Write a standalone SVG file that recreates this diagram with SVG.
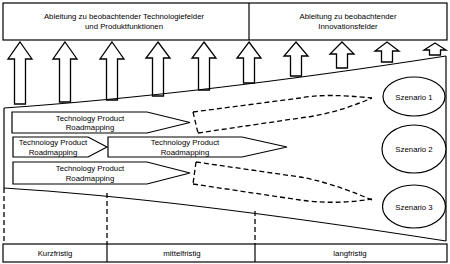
<svg xmlns="http://www.w3.org/2000/svg" width="450" height="264" viewBox="0 0 450 264">
<style>
.ln{fill:none;stroke:#000;stroke-width:1.2}
.bx{fill:#fff;stroke:#000;stroke-width:1.2}
.ds{fill:none;stroke:#000;stroke-width:1.3;stroke-dasharray:5,3}
.ar{fill:#fff;stroke:#000;stroke-width:1.3;stroke-linejoin:miter}
text{font-family:"Liberation Sans",Arial,sans-serif;font-size:7.8px;fill:#000;text-anchor:middle}
</style>
<rect width="450" height="264" fill="#fff"/>
<g id="top-box">
<rect class="bx" x="3" y="3" width="444" height="37"/>
<line class="ln" x1="249" y1="3" x2="249" y2="40"/>
<text x="124" y="19">Ableitung zu beobachtender Technologiefelder</text>
<text x="124" y="29">und Produktfunktionen</text>
<text x="348" y="19">Ableitung zu beobachtender</text>
<text x="348" y="29">Innovationsfelder</text>
</g>
<g id="arrows">
<polygon class="ar" points="20,42 32,59 25.5,59 25.5,104 14.5,104 14.5,59 8,59"/>
<polygon class="ar" points="65,42 77,59 70.5,59 70.5,102 59.5,102 59.5,59 53,59"/>
<polygon class="ar" points="112,42 124,59 117.5,59 117.5,100 106.5,100 106.5,59 100,59"/>
<polygon class="ar" points="158,42 170,58 163.5,58 163.5,96 152.5,96 152.5,58 146,58"/>
<polygon class="ar" points="204,42 216,58 209.5,58 209.5,90 198.5,90 198.5,58 192,58"/>
<polygon class="ar" points="249,42 261,58 254.5,58 254.5,83 243.5,83 243.5,58 237,58"/>
<polygon class="ar" points="296,42 308,56 301.5,56 301.5,76 290.5,76 290.5,56 284,56"/>
<polygon class="ar" points="342,42 354,54 347.5,54 347.5,68 336.5,68 336.5,54 330,54"/>
<polygon class="ar" points="387,42 399,51 392.5,51 392.5,62 381.5,62 381.5,51 375,51"/>
<polygon class="ar" points="435,43 446,50 440.5,50 440.5,55 429.5,55 429.5,50 424,50"/>
</g>
<g id="funnel">
<path class="ln" d="M4,108 C120,100 260,85 446,56"/>
<path class="ln" d="M4,188 C120,195 260,212 446,241"/>
<line class="ln" x1="4" y1="108" x2="4" y2="188"/>
<line class="ln" x1="446" y1="56" x2="446" y2="241"/>
</g>
<g id="connectors">
<path class="ds" d="M193,112 L198,133"/>
<path class="ds" d="M193,112 L300,98 Q325,93 372,98"/>
<path class="ds" d="M198,133 L300,118 Q335,114 372,98"/>
<path class="ds" d="M196,162 L193,184"/>
<path class="ds" d="M196,162 L300,177 Q330,182 372,200"/>
<path class="ds" d="M193,184 L300,200 Q335,205 372,199"/>
<line class="ds" x1="4" y1="188" x2="4" y2="244"/>
<line class="ds" x1="107" y1="193" x2="107" y2="244"/>
<line class="ds" x1="255" y1="211" x2="255" y2="244"/>
</g>
<g id="tpr1">
<polygon class="bx" points="12,112 147,112 190,122.5 147,133 12,133"/>
<text x="90" y="120.5">Technology Product</text>
<text x="90" y="130">Roadmapping</text>
</g>
<g id="tpr2a">
<polygon class="bx" points="13,137 88,137 107,147 88,157 13,157"/>
<text x="53" y="145">Technology Product</text>
<text x="53" y="154.5">Roadmapping</text>
</g>
<g id="tpr2b">
<polygon class="bx" points="108,137 242,137 287,147 242,157 108,157"/>
<text x="185" y="145">Technology Product</text>
<text x="185" y="154.5">Roadmapping</text>
</g>
<g id="tpr3">
<polygon class="bx" points="13,162 147,162 190,173 147,184 13,184"/>
<text x="90" y="171">Technology Product</text>
<text x="90" y="180.5">Roadmapping</text>
</g>
<g id="szenario1">
<ellipse class="bx" cx="414" cy="96.5" rx="31" ry="19.5"/>
<text x="414" y="99.5">Szenario 1</text>
</g>
<g id="szenario2">
<ellipse class="bx" cx="414" cy="149" rx="32" ry="24"/>
<text x="414" y="152">Szenario 2</text>
</g>
<g id="szenario3">
<ellipse class="bx" cx="414" cy="206.5" rx="31.5" ry="21.5"/>
<text x="414" y="209.5">Szenario 3</text>
</g>
<g id="timeline">
<rect class="bx" x="3" y="244" width="444" height="18"/>
<line class="ln" x1="107" y1="244" x2="107" y2="262"/>
<line class="ln" x1="255" y1="244" x2="255" y2="262"/>
<text x="55" y="256">Kurzfristig</text>
<text x="182" y="256">mittelfristig</text>
<text x="350" y="256">langfristig</text>
</g>
</svg>
